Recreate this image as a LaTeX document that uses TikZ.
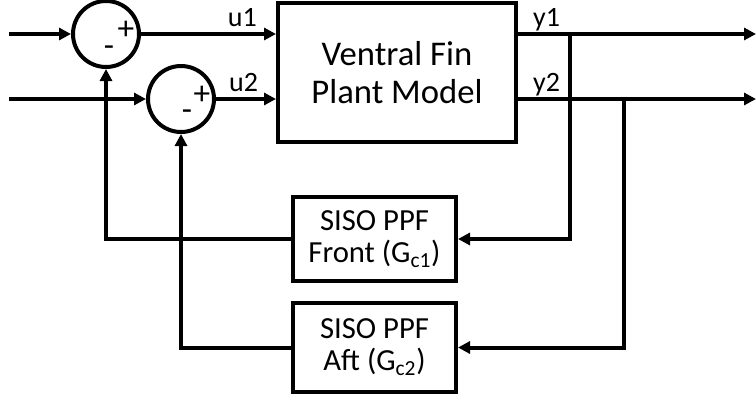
\documentclass[tikz,border=0pt]{standalone}
\usepackage{fontspec}
\setmainfont{Carlito}
\usetikzlibrary{arrows.meta}

\begin{document}
\begin{tikzpicture}[x=0.75pt, y=-0.75pt, line width=3pt, >={Triangle[length=9pt, width=9pt]},
  sumnode/.style={draw, circle, minimum size=49.5pt, inner sep=0pt},
  blockbox/.style={draw, rectangle, inner sep=0pt, align=center},
  sig/.style={font=\fontsize{21}{24}\selectfont, anchor=base, inner sep=0pt, yshift=5.5pt},
  sgn/.style={font=\fontsize{25}{27}\selectfont, inner sep=0pt}]
	\useasboundingbox (0,0) rectangle (756,396);
	% 1. summing junctions
	\node[sumnode] (sum1) at (106,34) {};
	\node[sumnode] (sum2) at (181,99) {};
	\node[sgn] (plus1) at (126,30) {+};
	\node[sgn] (minus1) at (109,51) {-};
	\node[sgn] (plus2) at (202,95) {+};
	\node[sgn] (minus2) at (187,115) {-};
	
	% 2. blocks
	\node[blockbox, minimum width=178.5pt, minimum height=104.25pt, font=\fontsize{26}{29}\selectfont] (plant) at (397,72.5) {Ventral Fin\\Plant Model};
	\node[blockbox, minimum width=122.25pt, minimum height=63pt, font=\fontsize{23}{24}\selectfont] (front) at (374.5,239) {SISO PPF\\Front (G\textsubscript{c1})};
	\node[blockbox, minimum width=122.25pt, minimum height=66.75pt, font=\fontsize{23}{24}\selectfont] (aft) at (374.5,347.5) {SISO PPF\\Aft (G\textsubscript{c2})};
	
	% 3. free ends and branch points
	\coordinate (in1) at (9,34);
	\coordinate (in2) at (9,99);
	\coordinate (out1) at (756,34);
	\coordinate (out2) at (756,99);
	\coordinate (br1) at (570,34);
	\coordinate (br2) at (624,99);
	
	% 4. forward path
	\draw[->] (in1) -- (sum1.west);
	\draw[->] (in2) -- (sum2.west);
	\draw[->] (sum1.east) -- node[sig, pos=0.75] (u1) {u1} (plant.west |- sum1.east);
	\draw[->] (sum2.east) -- node[sig, pos=0.46] (u2) {u2} (plant.west |- sum2.east);
	\draw[->] (plant.east |- out1) -- node[sig, pos=0.12] (y1) {y1} (out1);
	\draw[->] (plant.east |- out2) -- node[sig, pos=0.12] (y2) {y2} (out2);
	
	% 5. feedback path
	\draw[->] (br1) |- (front.east);
	\draw[->] (br2) |- (aft.east);
	\draw[->] (front.west) -| (sum1.south);
	\draw[->] (aft.west) -| (sum2.south);
\end{tikzpicture}
\end{document}
